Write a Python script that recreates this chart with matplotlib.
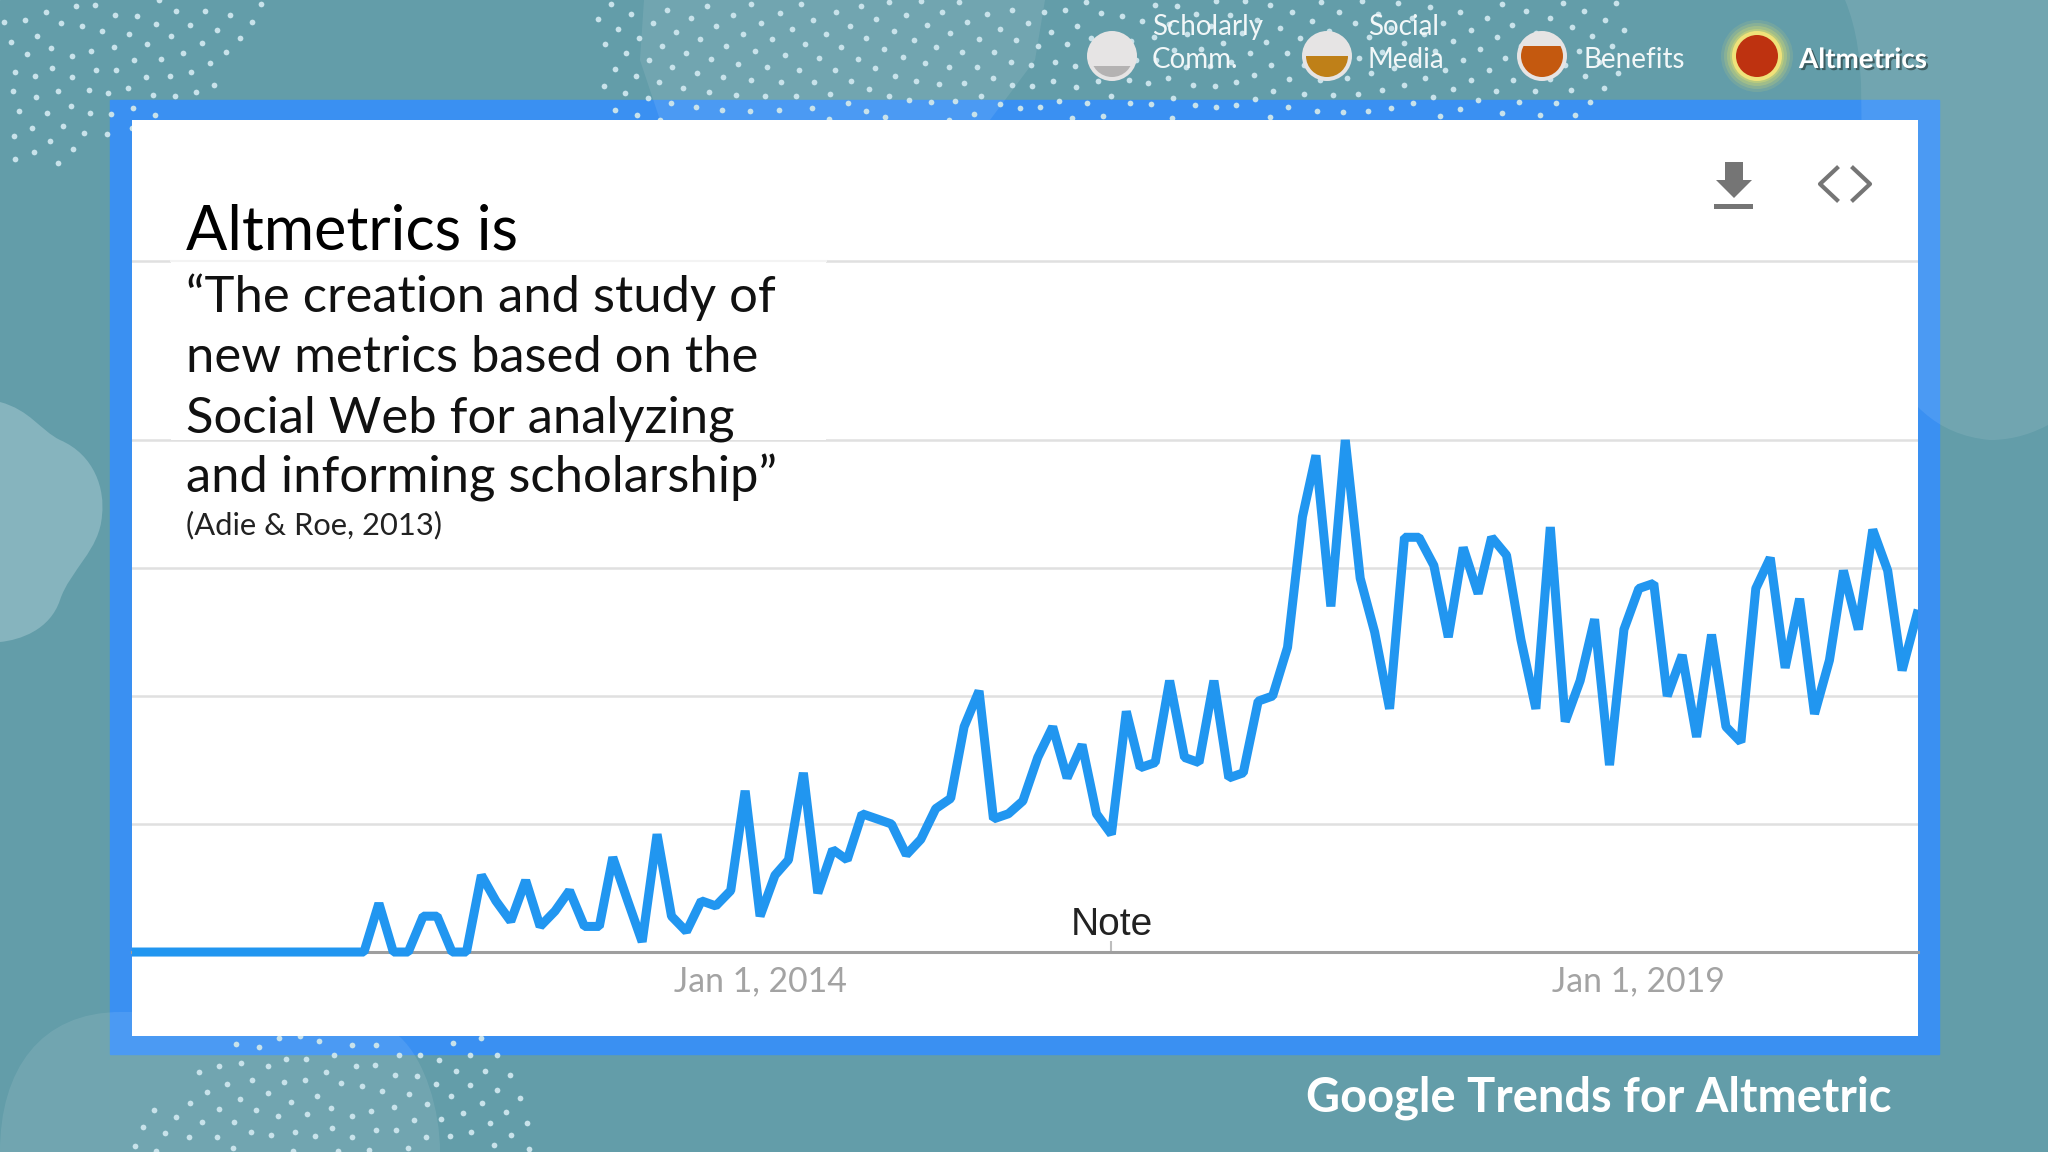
import numpy as np
import pandas as pd
import matplotlib
matplotlib.use('Agg')
import matplotlib.pyplot as plt
import matplotlib.dates as mdates
import matplotlib.patheffects as pe
from matplotlib.patches import Circle, PathPatch, Polygon, Rectangle
from matplotlib.path import Path

W, H = 2048, 1152

# Google Trends interest, monthly
months = pd.date_range('2010-06-01', periods=123, freq='MS')
zero_part = [0] * 17
interest_2011_2014 = [9.5, 0, 0, 7, 7, 0, 0, 15, 10, 6, 14, 5, 8, 12, 5, 5, 18.5, 10, 2, 23,
                      7, 4, 10, 9, 12, 31.5, 7, 15, 18, 35]
interest_2014_2017 = [11.5, 20, 18, 27, 26, 25, 19, 22, 28, 30, 44, 51, 26, 27, 29.5, 38, 44,
                      34, 40.5, 27, 23, 47, 36, 37, 53, 38, 37, 53, 34, 35, 49, 50, 59.5, 85,
                      97, 67.5, 100, 73, 62.5]
interest_2017_2020 = [47.5, 81, 81, 75.5, 61.5, 79, 70, 81, 77.5, 61, 47.5, 83, 45, 53, 65,
                      36.5, 63, 71, 72, 50, 58, 42, 62, 44, 41, 71, 77, 55.5, 69, 46.5, 57,
                      74.5, 63, 82.5, 74.5, 55, 66]
interest = zero_part + interest_2011_2014 + interest_2014_2017 + interest_2017_2020
grid_levels = [25, 50, 75, 100, 135]
tick_dates = ['2014-01-01', '2019-01-01']
tick_labels = ['Jan 1, 2014', 'Jan 1, 2019']
note_date = '2016-01-01'

quote_lines = ['\u201cThe creation and study of', 'new metrics based on the',
               'Social Web for analyzing', 'and informing scholarship\u201d']
steps = ['Scholarly\nComm.', 'Social\nMedia', 'Benefits', 'Altmetrics']
step_levels = [66, 56, 46, 0]  # pixel height where the fill of the bubble starts
step_colors = ['#B4B2B2', '#BF8018', '#C4590F', '#BE3210']

plt.rcParams['font.family'] = ['Lato', 'DejaVu Sans']

fig = plt.figure(figsize=(W / 100, H / 100), dpi=100)


def pixel_axes(zorder):
    a = fig.add_axes([0, 0, 1, 1], zorder=zorder)
    a.set_xlim(0, W)
    a.set_ylim(H, 0)
    a.axis('off')
    return a


def blob(curve, corners=()):
    # smooth outline from bezier segments, closed through any straight corners
    codes = [Path.MOVETO] + [Path.CURVE4] * (len(curve) - 1) + [Path.LINETO] * len(corners)
    points = list(curve) + list(corners)
    return Path(points + [points[0]], codes + [Path.CLOSEPOLY])


def scatter_dots(a, outline, center):
    # sunflower spiral, which gives the curved rows of the slide's dot pattern
    n = np.arange(1, 2500)
    r = 11.8 * np.sqrt(n)
    xs = center[0] + r * np.cos(n * 2.39996)
    ys = center[1] + r * np.sin(n * 2.39996)
    pts = np.column_stack([xs, ys])
    pts = pts[Path(outline).contains_points(pts)]
    a.scatter(pts[:, 0], pts[:, 1], s=17, color='#C8E2EA', linewidths=0, zorder=5)


# background
bg = pixel_axes(0)
bg.add_patch(Rectangle((0, 0), W, H, color='#639DA9', zorder=0))
bg.add_patch(Rectangle((110, 100), 1829, 954, color='#3A90F2', zorder=1))
bg.add_patch(PathPatch(blob([(0, 402), (30, 410), (40, 430), (60, 440), (95, 455), (105, 490),
                             (102, 515), (100, 550), (70, 570), (60, 600), (50, 630), (20, 640),
                             (0, 642)]), color='#86B4BE', lw=0, zorder=2))
soft = dict(color='white', alpha=0.09, lw=0, zorder=3)
bg.add_patch(PathPatch(blob([(0, 1152), (0, 1070), (40, 1012), (121, 1012), (250, 1012), (370, 1010),
                             (400, 1037), (425, 1060), (440, 1110), (440, 1152)]), **soft))
bg.add_patch(PathPatch(blob([(1845, 0), (1870, 60), (1858, 130), (1862, 200), (1862, 300),
                             (1880, 430), (1990, 440), (2015, 440), (2035, 432), (2048, 425)],
                            [(W, 0)]), **soft))
bg.add_patch(Polygon([(644, 0), (1045, 0), (1035, 60), (990, 120), (660, 120), (640, 60)], **soft))
scatter_dots(bg, [(0, 0), (270, 0), (245, 50), (205, 100), (120, 140), (65, 165), (0, 165)], (60, 40))
scatter_dots(bg, [(583, 0), (1630, 0), (1625, 90), (1600, 120), (620, 120), (600, 90)], (1100, 30))
scatter_dots(bg, [(236, 1036), (494, 1036), (530, 1095), (530, 1152), (115, 1152), (130, 1130),
                  (200, 1070)], (340, 1100))

# the trends chart
ax = fig.add_axes([132 / W, 1 - 1036 / H, (1918 - 132) / W, (1036 - 120) / H], zorder=1)
ax.set_facecolor('white')
ax.plot(months, interest, color='#2196F0', lw=6.5, solid_joinstyle='bevel', zorder=4)
ax.set_xlim(mdates.date2num(pd.Timestamp('2014-01-01')) - 1305,
            mdates.date2num(pd.Timestamp('2019-01-01')) + 580)
ax.set_ylim(-16.4, 162.5)
ax.set_yticks(grid_levels)
ax.grid(axis='y', color='#E0E0E0', lw=1.8)
ax.set_axisbelow(True)
ax.tick_params(axis='y', left=False, labelleft=False)
ax.set_xticks(pd.to_datetime(tick_dates), tick_labels)
ax.set_xticks([pd.Timestamp(note_date)], minor=True)
ax.tick_params(axis='x', which='major', length=0, pad=9.5, labelsize=24.3, labelcolor='#A3A3A3')
ax.tick_params(axis='x', which='minor', direction='in', length=8, width=1.5, color='#BDBDBD')
for label in ax.get_xticklabels():
    label.set_family('Roboto')
for side in ['top', 'left', 'right']:
    ax.spines[side].set_visible(False)
ax.spines['bottom'].set_position(('data', 0))
ax.spines['bottom'].set_color('#9E9E9E')
ax.spines['bottom'].set_linewidth(2.2)
ax.text(pd.Timestamp(note_date), 3.4, 'Note', ha='center', va='baseline', fontsize=28,
        family='Liberation Sans', color='#222222')

# slide overlay
fg = pixel_axes(2)
fg.add_patch(Rectangle((171, 261), 655, 179, color='white', lw=0, zorder=1))
fg.plot([171, 826], [260.5, 260.5], color='#F3F3F3', lw=1.5, zorder=1)
fg.text(186, 249, 'Altmetrics is', fontsize=44, color='black', va='baseline', zorder=3)
for line, y in zip(quote_lines, [312, 372, 432, 492]):
    fg.text(186, y, line, fontsize=36.5, color='#111111', va='baseline', zorder=3)
fg.text(186, 534, '(Adie & Roe, 2013)', fontsize=22.2, color='#222222', va='baseline', zorder=3)
fg.text(1306, 1111, 'Google Trends for Altmetric', fontsize=33.8, fontweight='bold', color='white',
        va='baseline', zorder=3)

# download and embed icons
icon = '#757575'
fg.add_patch(Polygon([(1725, 162), (1743, 162), (1743, 180), (1752, 180), (1734, 198), (1716, 180),
                      (1725, 180)], color=icon, lw=0, zorder=3))
fg.add_patch(Rectangle((1714, 204), 39, 5, color=icon, lw=0, zorder=3))
fg.plot([1837, 1820, 1837], [168, 184, 200], color=icon, lw=3, zorder=3)
fg.plot([1853, 1870, 1853], [168, 184, 200], color=icon, lw=3, zorder=3)

# progress bubbles at the top
centers = [1112, 1327, 1542, 1757]
label_x = [1152, 1368, 1584, 1799]
for i in range(4):
    cx = centers[i]
    if i == 3:
        for r, al in zip([36, 33, 30, 27], [0.12, 0.18, 0.25, 0.35]):
            fg.add_patch(Circle((cx, 56), r, color='#E8E468', alpha=al, lw=0, zorder=2))
    fg.add_patch(Circle((cx, 56), 25, color='#EFE27A' if i == 3 else '#E6E4E4', lw=0, zorder=3))
    fill = Rectangle((cx - 25, step_levels[i]), 50, 100, color=step_colors[i], lw=0, zorder=4)
    fg.add_patch(fill)
    fill.set_clip_path(Circle((cx, 56), 21, transform=fg.transData))
    if i == 3:
        text = fg.text(label_x[i], 68, steps[i], fontsize=20, fontweight='bold', color='white',
                       va='baseline', zorder=5)
        text.set_path_effects([pe.withSimplePatchShadow(offset=(1.5, -1.5), shadow_rgbFace='#223333',
                                                        alpha=0.6)])
    elif '\n' in steps[i]:
        top, bottom = steps[i].split('\n')
        fg.text(label_x[i], 35, top, fontsize=20, color='#F2F7F8', va='baseline', zorder=5)
        fg.text(label_x[i], 68, bottom, fontsize=20, color='#F2F7F8', va='baseline', zorder=5)
    else:
        fg.text(label_x[i], 68, steps[i], fontsize=20, color='#F2F7F8', va='baseline', zorder=5)

fig.savefig('out.png', dpi=100)
